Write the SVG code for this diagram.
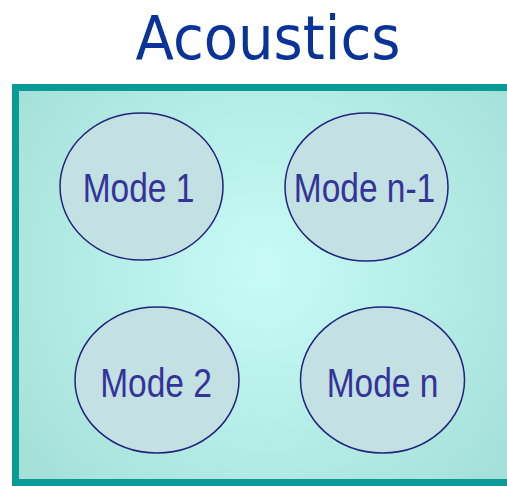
<svg xmlns="http://www.w3.org/2000/svg" width="507" height="486" viewBox="0 0 507 486">
  <defs>
    <radialGradient id="bg" cx="265" cy="270" r="300" gradientUnits="userSpaceOnUse">
      <stop offset="0" stop-color="#c8fbf7"/>
      <stop offset="1" stop-color="#a6e1d9"/>
    </radialGradient>
  </defs>
  <style>
    .title { font-family: "DejaVu Sans", "Open Sans", sans-serif; font-size: 61px; fill: #0a3399; }
    .mode ellipse { fill: #c3e0e3; stroke: #22227f; stroke-width: 1.5; }
    .mode text { font-family: "Liberation Sans", Arial, sans-serif; font-size: 33.5px; fill: #333399; text-anchor: middle; }
  </style>
  <rect width="507" height="486" fill="#ffffff"/>
  <text class="title" x="268" y="58.5" text-anchor="middle" textLength="265" lengthAdjust="spacingAndGlyphs">Acoustics</text>
  <g id="container">
    <rect x="15.5" y="87.5" width="510" height="395" fill="url(#bg)" stroke="#0b9b96" stroke-width="7"/>
  </g>
  <g id="mode1" class="mode">
    <ellipse cx="141.5" cy="186.5" rx="81.5" ry="73.5"/>
    <text transform="translate(138.5,202) scale(1,1.24)">Mode 1</text>
  </g>
  <g id="moden1" class="mode">
    <ellipse cx="366.5" cy="187" rx="81.5" ry="74"/>
    <text transform="translate(364.5,202) scale(1,1.24)">Mode n-1</text>
  </g>
  <g id="mode2" class="mode">
    <ellipse cx="157" cy="380" rx="82" ry="73"/>
    <text transform="translate(156,397) scale(1,1.24)">Mode 2</text>
  </g>
  <g id="moden" class="mode">
    <ellipse cx="382.5" cy="380" rx="82" ry="73"/>
    <text transform="translate(382.5,397) scale(1,1.24)">Mode n</text>
  </g>
  <g id="connectors"/>
</svg>
